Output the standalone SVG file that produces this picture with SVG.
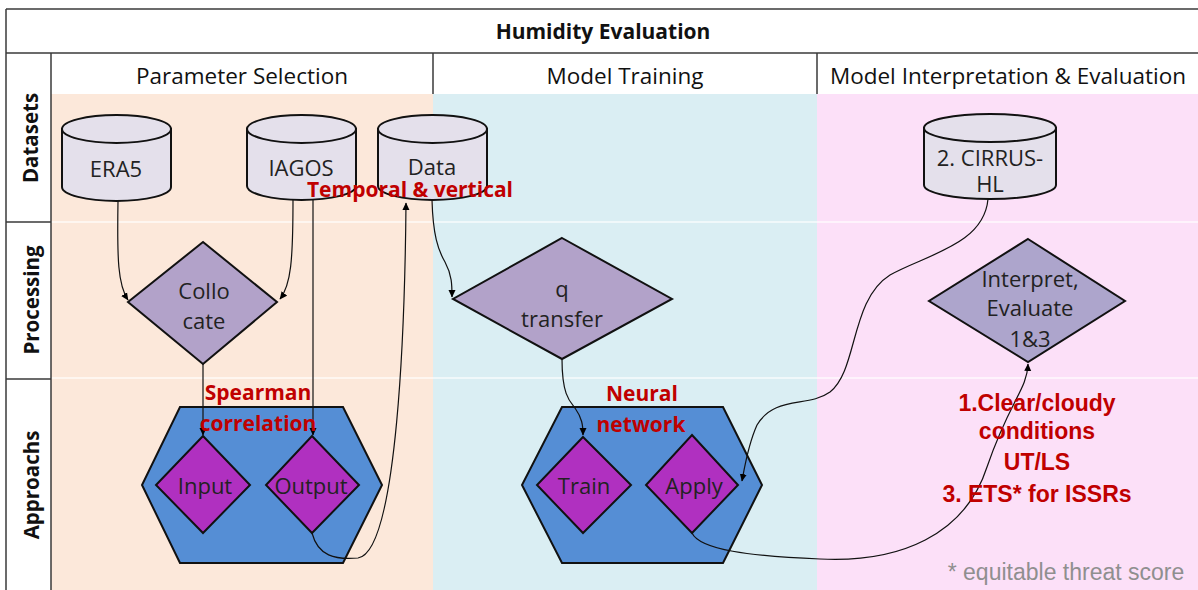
<svg xmlns="http://www.w3.org/2000/svg" width="1198" height="590" viewBox="0 0 1198 590">
<defs>
<marker id="arr" markerWidth="8" markerHeight="8" refX="7" refY="4" orient="auto" markerUnits="userSpaceOnUse">
<path d="M0,0.5 L7.5,4 L0,7.5 z" fill="#000"/>
</marker>
<style>
.grid{stroke:#3a3a3a;stroke-width:1.5;fill:none}
.sep{stroke:#ffffff;stroke-opacity:0.6;stroke-width:2}
.cyl{fill:#E4E0EB;stroke:#111;stroke-width:2}
.proc{fill:#B2A2C9;stroke:#111;stroke-width:2}
.proc2{fill:#ADA5CC;stroke:#111;stroke-width:2}
.hex{fill:#558ED5;stroke:#111;stroke-width:2}
.mag{fill:#B030C0;stroke:#111;stroke-width:2}
.t{font-family:"Open Sans","Liberation Sans",sans-serif;font-size:22px;fill:#222;text-anchor:middle;dominant-baseline:central}
.hd{font-family:"Open Sans","Liberation Sans",sans-serif;font-size:22.5px;fill:#111;text-anchor:middle;dominant-baseline:central}
.ttl{font-family:"Open Sans","Liberation Sans",sans-serif;font-size:21px;font-weight:bold;fill:#111;text-anchor:middle;dominant-baseline:central}
.row{font-family:"Open Sans","Liberation Sans",sans-serif;font-size:20.5px;font-weight:bold;fill:#111;text-anchor:middle;dominant-baseline:central}
.red{font-family:"Open Sans","Liberation Sans",sans-serif;font-size:21px;font-weight:bold;fill:#C00000;text-anchor:middle;dominant-baseline:central}
.reda{font-family:"Liberation Sans",Arial,sans-serif;font-size:23px;font-weight:bold;fill:#C00000;text-anchor:middle;dominant-baseline:central}
.note{font-family:"Liberation Sans",Arial,sans-serif;font-size:23px;fill:#8f8f8f;text-anchor:middle;dominant-baseline:central}
.con{fill:none;stroke:#111;stroke-width:1.2}
</style>
</defs>

<g id="background">
<rect x="0" y="0" width="1198" height="590" fill="#ffffff"/>
<rect x="51" y="94" width="382" height="496" fill="#FCE8DA"/>
<rect x="433" y="94" width="384" height="496" fill="#DAEEF3"/>
<rect x="817" y="94" width="381" height="496" fill="#FCE0F8"/>
<line class="sep" x1="51" y1="222" x2="1198" y2="222"/>
<line class="sep" x1="51" y1="378" x2="1198" y2="378"/>
</g>

<g id="table">
<line class="grid" x1="6" y1="9" x2="1198" y2="9"/>
<line class="grid" x1="6" y1="53" x2="1198" y2="53"/>
<line class="grid" x1="6" y1="9" x2="6" y2="590"/>
<line class="grid" x1="51" y1="53" x2="51" y2="590"/>
<line class="grid" x1="433" y1="53" x2="433" y2="94"/>
<line class="grid" x1="817" y1="53" x2="817" y2="94"/>
<line class="grid" x1="6" y1="222" x2="51" y2="222"/>
<line class="grid" x1="6" y1="379" x2="51" y2="379"/>
<text class="ttl" x="603" y="31">Humidity Evaluation</text>
<text class="hd" x="242" y="75">Parameter Selection</text>
<text class="hd" x="625" y="75">Model Training</text>
<text class="hd" x="1008" y="75">Model Interpretation &amp; Evaluation</text>
<text class="row" transform="translate(30,138) rotate(-90)">Datasets</text>
<text class="row" transform="translate(31,300) rotate(-90)">Processing</text>
<text class="row" transform="translate(31,485) rotate(-90)">Approachs</text>
</g>

<g id="era5">
<path class="cyl" d="M62,129 L62,187 A54.5,14 0 0 0 171,187 L171,129 Z"/>
<ellipse class="cyl" cx="116.5" cy="129" rx="54.5" ry="14"/>
<text class="t" x="116" y="168">ERA5</text>
</g>
<g id="iagos">
<path class="cyl" d="M247,129 L247,186 A54.5,14 0 0 0 356,186 L356,129 Z"/>
<ellipse class="cyl" cx="301.5" cy="129" rx="54.5" ry="14"/>
<text class="t" x="301" y="167">IAGOS</text>
</g>
<g id="data">
<path class="cyl" d="M378,129 L378,186 A54.5,14 0 0 0 487,186 L487,129 Z"/>
<ellipse class="cyl" cx="432.5" cy="129" rx="54.5" ry="14"/>
<text class="t" x="432" y="166">Data</text>
</g>
<g id="cirrus">
<path class="cyl" d="M924,128 L924,185 A66,14 0 0 0 1056,185 L1056,128 Z"/>
<ellipse class="cyl" cx="990" cy="128" rx="66" ry="14"/>
<text class="t" x="990" y="157">2. CIRRUS-</text>
<text class="t" x="990" y="183">HL</text>
</g>

<g id="collocate">
<polygon class="proc" points="203,242 277,302 203,364 128,302"/>
<text class="t" x="204" y="290">Collo</text>
<text class="t" x="204" y="320">cate</text>
</g>
<g id="qtransfer">
<polygon class="proc" points="562,238 672,299 562,359 453,299"/>
<text class="t" x="562" y="288">q</text>
<text class="t" x="562" y="318">transfer</text>
</g>
<g id="interpret">
<polygon class="proc2" points="1028,239 1125,301 1028,362 929,301"/>
<text class="t" x="1030" y="278">Interpret,</text>
<text class="t" x="1030" y="307">Evaluate</text>
<text class="t" x="1030" y="338">1&amp;3</text>
</g>

<g id="selection-approach">
<polygon class="hex" points="180,407 343,407 382,485 343,563 180,563 142,485"/>
</g>
<g id="input">
<polygon class="mag" points="203,436 250,485 203,533 156,485"/>
<text class="t" x="205" y="485">Input</text>
</g>
<g id="output">
<polygon class="mag" points="312,436 359,485 312,533 266,485"/>
<text class="t" x="311" y="485">Output</text>
</g>

<g id="nn-approach">
<polygon class="hex" points="562,407 723,407 762,485 723,563 562,563 522,485"/>
</g>
<g id="train">
<polygon class="mag" points="583,437 631,485 583,533 537,485"/>
<text class="t" x="584" y="485">Train</text>
</g>
<g id="apply">
<polygon class="mag" points="692,435 738,485 692,533 646,485"/>
<text class="t" x="694" y="485">Apply</text>
</g>

<g id="connectors">
<path class="con" marker-end="url(#arr)" d="M118,201 C117,260 118,285 128,300"/>
<path class="con" marker-end="url(#arr)" d="M293,199 C293,260 291,285 280,299"/>
<path class="con" marker-end="url(#arr)" d="M313,199 L313,435"/>
<path class="con" marker-end="url(#arr)" d="M203,364 L203,435"/>
<path class="con" marker-end="url(#arr)" d="M312,533 C318,556 335,560 358,558 C398,552 405,320 406,203"/>
<path class="con" marker-end="url(#arr)" d="M432,200 C433,235 438,250 445,262 C452,275 452,285 452,297"/>
<path class="con" marker-end="url(#arr)" d="M562,359 C562,395 570,402 575,408 C582,418 583,425 583,435"/>
<path class="con" marker-end="url(#arr)" d="M988,199 C984,245 925,255 890,275 C850,300 858,370 830,392 C808,408 775,395 757,425 C748,445 745,465 742,481"/>
<path class="con" marker-end="url(#arr)" d="M692,533 C700,550 750,556 820,559 C900,563 965,535 987,467 C1010,400 1027,390 1028,364"/>
</g>

<g id="labels">
<text class="red" x="410" y="189">Temporal &amp; vertical</text>
<text class="red" x="258" y="392">Spearman</text>
<text class="red" x="258" y="423">correlation</text>
<text class="red" x="642" y="393">Neural</text>
<text class="red" x="641" y="424">network</text>
<text class="reda" x="1037" y="403">1.Clear/cloudy</text>
<text class="reda" x="1037" y="431">conditions</text>
<text class="reda" x="1037" y="462">UT/LS</text>
<text class="reda" x="1037" y="494">3. ETS* for ISSRs</text>
<text class="note" x="1066" y="572">* equitable threat score</text>
</g>
</svg>
